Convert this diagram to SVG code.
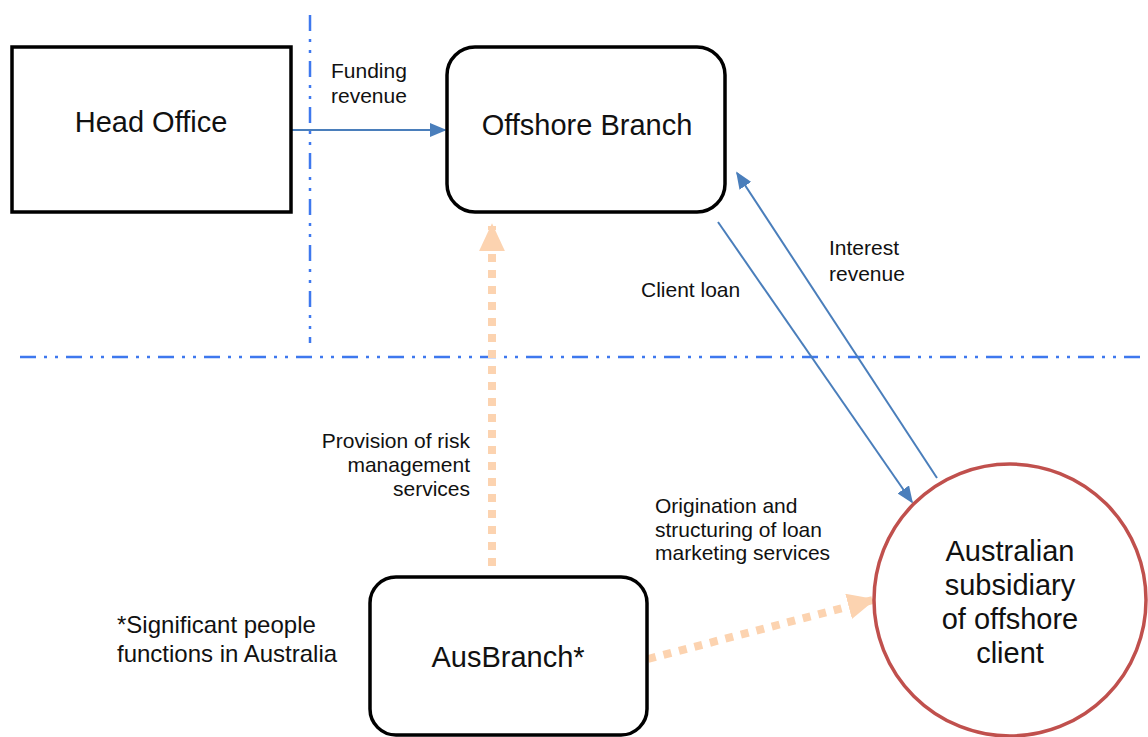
<svg xmlns="http://www.w3.org/2000/svg" width="1148" height="737" viewBox="0 0 1148 737">
<style>
.box{fill:#fff;stroke:#000;stroke-width:3.5}
.t{font-family:"Liberation Sans",Arial,sans-serif;fill:#111}
.big{font-size:29px;text-anchor:middle}
.lbl{font-size:21px}
.note{font-size:24px}
.sep{stroke:#3e78ee;stroke-width:2.5;stroke-dasharray:16 8 3 8 3 8;fill:none}
.blue{stroke:#4a7ebb;stroke-width:2;fill:none}
.peach{stroke:#fcd3b0;stroke-width:8;stroke-dasharray:8 8;fill:none}
</style>
<defs>
<marker id="ab2" viewBox="0 0 10 10" refX="9" refY="5" markerWidth="17" markerHeight="14" markerUnits="userSpaceOnUse" orient="auto" preserveAspectRatio="none"><path d="M0,0 L10,5 L0,10 z" fill="#4a7ebb"/></marker>
<marker id="ap" viewBox="0 0 10 10" refX="9" refY="5" markerWidth="28" markerHeight="26" markerUnits="userSpaceOnUse" orient="auto" preserveAspectRatio="none"><path d="M0,0 L10,5 L0,10 z" fill="#fcd3b0"/></marker>
</defs>
<rect width="1148" height="737" fill="#fff"/>
<g id="separators">
<line class="sep" x1="310" y1="15" x2="310" y2="343"/>
<line class="sep" x1="20" y1="357" x2="1148" y2="357"/>
</g>
<g id="connectors">
<line class="blue" x1="291" y1="130" x2="445" y2="130" marker-end="url(#ab2)"/>
<line class="blue" x1="718" y1="222" x2="912" y2="502" marker-end="url(#ab2)"/>
<line class="blue" x1="937" y1="478" x2="737" y2="173" marker-end="url(#ab2)"/>
<line class="peach" x1="492" y1="566" x2="492" y2="226" marker-end="url(#ap)"/>
<line class="peach" x1="648" y1="659" x2="873" y2="600" marker-end="url(#ap)"/>
</g>
<g id="head-office">
<rect class="box" x="12" y="47" width="279" height="165"/>
<text class="t big" x="151" y="132">Head Office</text>
</g>
<g id="offshore-branch">
<rect class="box" x="447" y="47" width="278" height="165" rx="28"/>
<text class="t big" x="587" y="135">Offshore Branch</text>
</g>
<g id="ausbranch">
<rect class="box" x="370" y="577" width="277" height="158" rx="26"/>
<text class="t big" x="508" y="667">AusBranch*</text>
</g>
<g id="subsidiary">
<circle cx="1010" cy="600" r="136" fill="#fff" stroke="#c0504d" stroke-width="3.5"/>
<text class="t big" x="1010" y="561">Australian</text>
<text class="t big" x="1010" y="595">subsidiary</text>
<text class="t big" x="1010" y="629">of offshore</text>
<text class="t big" x="1010" y="663">client</text>
</g>
<g id="labels">
<text class="t lbl" x="331" y="78">Funding</text>
<text class="t lbl" x="331" y="103">revenue</text>
<text class="t lbl" x="829" y="255">Interest</text>
<text class="t lbl" x="829" y="281">revenue</text>
<text class="t lbl" x="641" y="297">Client loan</text>
<text class="t lbl" x="470" y="448" text-anchor="end">Provision of risk</text>
<text class="t lbl" x="470" y="472" text-anchor="end">management</text>
<text class="t lbl" x="470" y="496" text-anchor="end">services</text>
<text class="t lbl" x="655" y="513">Origination and</text>
<text class="t lbl" x="655" y="537">structuring of loan</text>
<text class="t lbl" x="655" y="560">marketing services</text>
<text class="t note" x="117" y="633">*Significant people</text>
<text class="t note" x="117" y="662">functions in Australia</text>
</g>
</svg>
